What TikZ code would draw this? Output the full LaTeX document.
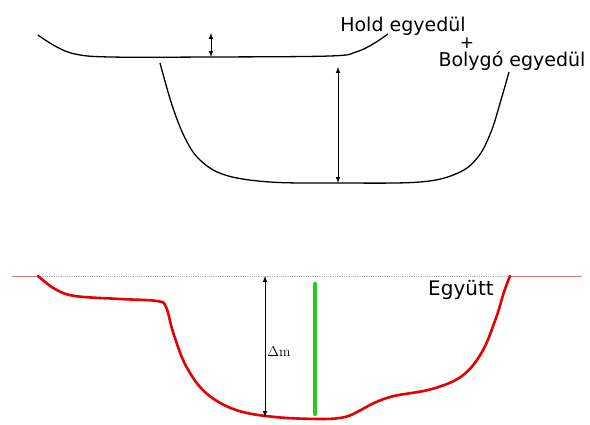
\documentclass[tikz,border=0pt]{standalone}
\usepackage{amsmath}
\usepackage{fontspec}
\newfontfamily\labelfont{DejaVu Sans}
\definecolor{curvered}{RGB}{230,0,0}
\definecolor{barGreen}{RGB}{40,200,40}
\definecolor{levelgray}{RGB}{175,175,175}
\definecolor{levelred}{RGB}{225,120,120}
\tikzset{
  curve/.style={line width=1.3pt, black},
  measure/.style={<->, >=latex, line width=1pt},
  caption/.style={font=\labelfont\fontsize{19}{22}\selectfont, inner sep=0pt, anchor=base}
}
\begin{document}
\begin{tikzpicture}[x=1pt, y=-1pt]
    \useasboundingbox (0,0) rectangle (590,425);
    % upper part: separate curves
    \draw [curve] plot[smooth, tension=0.6] coordinates {(38,35) (55,46) (75,54) (110,57) (211,57) (330,56) (356,52) (373,44) (388,34)};
    \draw [curve] plot[smooth, tension=0.6] coordinates {(160,63) (172,105) (185,138) (200,160) (225,175) (270,182) (338,183) (420,182) (458,173) (478,157) (491,132) (501,100) (509,72)};
    \coordinate (holdtop) at (211,33);
    \coordinate (holdbot) at (211,57);
    \coordinate (bolytop) at (338,67);
    \coordinate (bolybot) at (338,183);
    \draw [measure] (holdtop) -- (holdbot);
    \draw [measure] (bolytop) -- (bolybot);
    \node [caption] (hold) at (403,32) {Hold egyedül};
    \node [font=\labelfont\fontsize{17}{18}\selectfont, inner sep=0pt] (plus) at (467,43) {+};
    \node [caption] (boly) at (512,67) {Bolygó egyedül};
    % lower part: together
    \coordinate (lvlL) at (12,276);
    \coordinate (lvlA) at (38,276);
    \coordinate (lvlB) at (510,276);
    \coordinate (lvlR) at (582,276);
    \draw [levelred, line width=0.7pt] (lvlL) -- (lvlA);
    \draw [levelred, line width=0.7pt] (lvlB) -- (lvlR);
    \draw [levelgray, densely dotted, line width=0.8pt] (lvlA) -- (lvlB);
    \draw [curvered, line width=2.6pt, line cap=round] plot[smooth, tension=0.6] coordinates {(38,276) (55,289) (75,296) (120,299) (157,301) (166,307) (173,332) (186,366) (206,393) (236,410) (275,417) (322,419) (345,417) (359,411) (374,403) (394,396) (432,389) (462,376) (482,352) (496,318) (504,292) (510,276)};
    \coordinate (dmtop) at (265,276);
    \coordinate (dmbot) at (265,417);
    \draw [measure] (dmtop) -- (dmbot);
    \node [font=\fontsize{14}{16}\selectfont, inner sep=1pt] (dm) at (279,352) {$\Delta\mathrm{m}$};
    \coordinate (bartop) at (315,284);
    \coordinate (barbot) at (315,414);
    \draw [barGreen, line width=4.2pt, line cap=round] (bartop) -- (barbot);
    \node [caption, font=\labelfont\fontsize{20}{24}\selectfont] (egyutt) at (461,295) {Együtt};
\end{tikzpicture}
\end{document}
